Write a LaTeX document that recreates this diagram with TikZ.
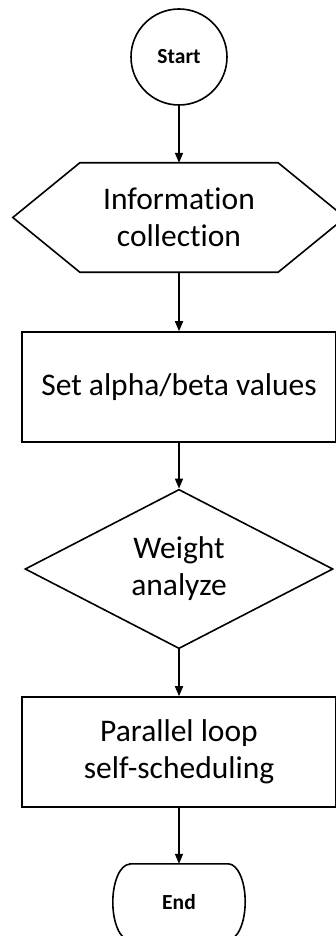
\documentclass[tikz,border=0pt]{standalone}
\usepackage{fontspec}
\setmainfont{Carlito}[Ligatures={NoCommon,NoContextual}]
\usetikzlibrary{arrows.meta,shapes.geometric}

\tikzset{
  outline/.style={draw=black, line width=1.6pt, line join=miter},
  bigtext/.style={font=\fontsize{31.5}{37}\selectfont, align=center, inner sep=0pt},
  smalltext/.style={font=\fontsize{21.5}{24}\selectfont\bfseries, inner sep=0pt},
  flow/.style={draw=black, line width=1.6pt, -{Triangle[length=10pt,width=8pt]}},
}

\begin{document}
\begin{tikzpicture}[x=1pt, y=-1pt]
  \clip (0,0) rectangle (336,936);
  \fill[white] (0,0) rectangle (336,936);

  % start terminal
  \node[circle, outline, smalltext, minimum size=96pt] (start) at (179,57) {Start};

  % information collection (preparation hexagon)
  \node[bigtext, minimum width=198pt, minimum height=109pt] (info) at (179,217.5)
    {Information\\collection};
  \draw[outline] (info.north west) -- (info.north east) -- ([xshift=67pt]info.east)
    -- (info.south east) -- (info.south west) -- ([xshift=-67pt]info.west) -- cycle;

  % parameter setting
  \node[rectangle, outline, bigtext, minimum width=314pt, minimum height=110pt] (setab)
    at (179,387) {Set alpha/beta values};

  % decision
  \node[diamond, outline, bigtext, minimum width=308pt, minimum height=134pt] (weight)
    at (179,569) {Weight\\analyze};

  % scheduling
  \node[rectangle, outline, bigtext, minimum width=314pt, minimum height=110pt] (sched)
    at (179,752) {Parallel loop\\self-scheduling};

  % end terminal
  \node[smalltext, minimum width=98pt, minimum height=76pt] (finish) at (179,902) {End};
  \draw[outline] (finish.north west) -- (finish.north east)
    arc[start angle=90, end angle=-90, x radius=17pt, y radius=38pt]
    -- (finish.south west)
    arc[start angle=-90, end angle=-270, x radius=17pt, y radius=38pt] -- cycle;

  % connectors
  \draw[flow] (start.south) -- (info.north);
  \draw[flow] (info.south) -- (setab.north);
  \draw[flow] (setab.south) -- (weight.north);
  \draw[flow] (weight.south) -- (sched.north);
  \draw[flow] (sched.south) -- (finish.north);
\end{tikzpicture}
\end{document}
